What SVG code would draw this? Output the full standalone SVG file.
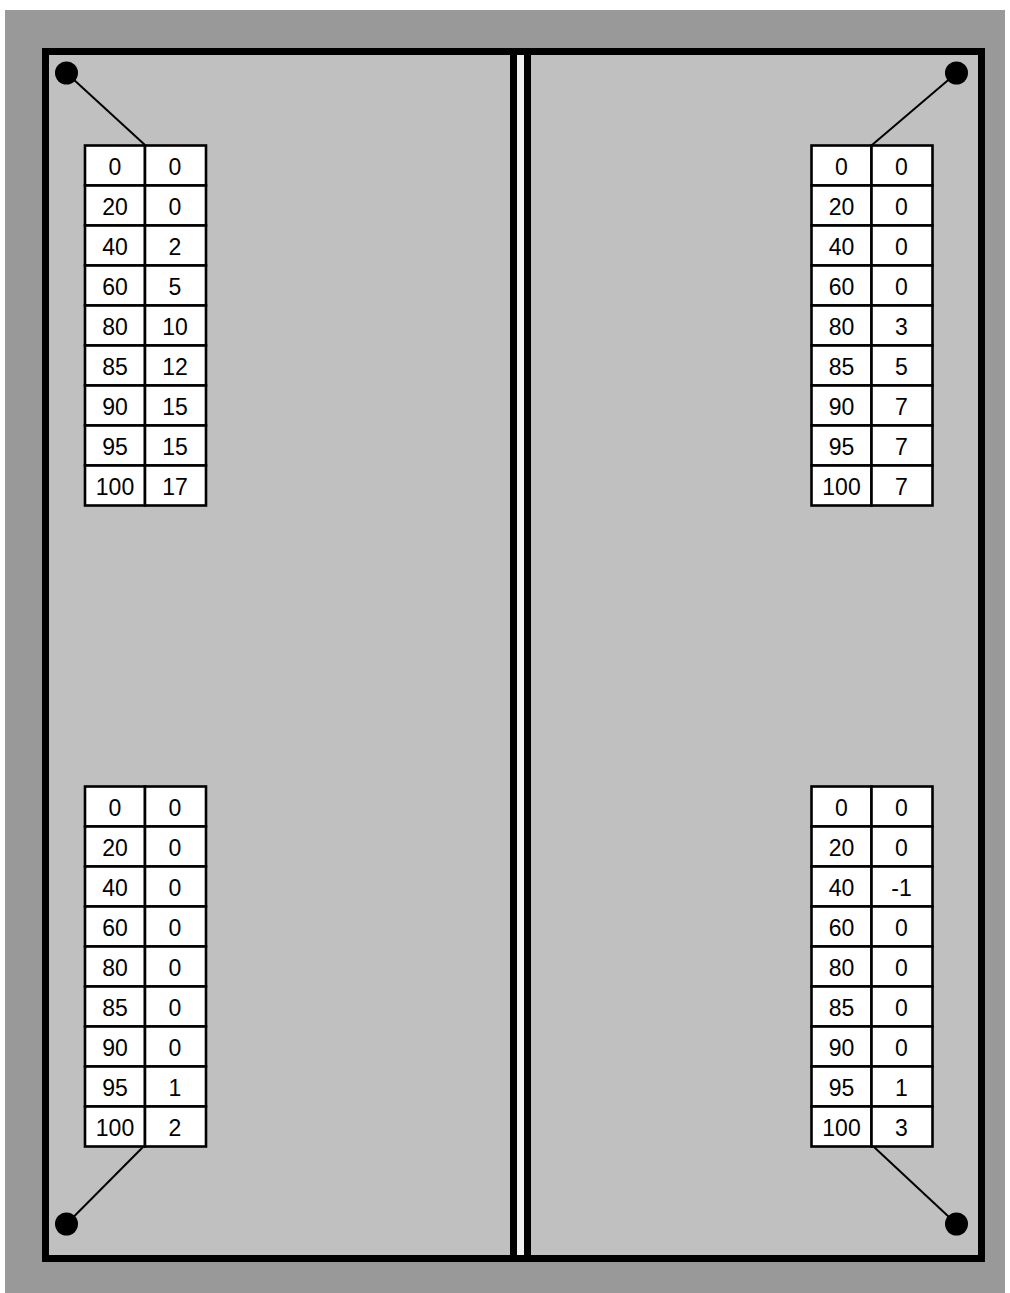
<svg xmlns="http://www.w3.org/2000/svg" width="1010" height="1293" viewBox="0 0 1010 1293">
<defs>
<style>
.cell{fill:#ffffff;stroke:#000000;stroke-width:2.6}
.t{font-family:"Liberation Sans",Arial,sans-serif;font-size:23px;fill:#000000;text-anchor:middle}
.lead{stroke:#000000;stroke-width:2;fill:none}
.dot{fill:#000000}
</style>
<g id="tbl-grid">
<rect class="cell" x="0" y="0" width="60" height="40"/><rect class="cell" x="60" y="0" width="61" height="40"/>
<rect class="cell" x="0" y="40" width="60" height="40"/><rect class="cell" x="60" y="40" width="61" height="40"/>
<rect class="cell" x="0" y="80" width="60" height="40"/><rect class="cell" x="60" y="80" width="61" height="40"/>
<rect class="cell" x="0" y="120" width="60" height="40"/><rect class="cell" x="60" y="120" width="61" height="40"/>
<rect class="cell" x="0" y="160" width="60" height="40"/><rect class="cell" x="60" y="160" width="61" height="40"/>
<rect class="cell" x="0" y="200" width="60" height="40"/><rect class="cell" x="60" y="200" width="61" height="40"/>
<rect class="cell" x="0" y="240" width="60" height="40"/><rect class="cell" x="60" y="240" width="61" height="40"/>
<rect class="cell" x="0" y="280" width="60" height="40"/><rect class="cell" x="60" y="280" width="61" height="40"/>
<rect class="cell" x="0" y="320" width="60" height="40"/><rect class="cell" x="60" y="320" width="61" height="40"/>
</g>
</defs>
<rect x="0" y="0" width="1010" height="1293" fill="#ffffff"/>
<rect x="5" y="10" width="1000" height="1283" fill="#999999"/>
<g id="frame">
<rect x="45.5" y="51.5" width="936" height="1207" fill="#c0c0c0" stroke="#000000" stroke-width="7"/>
<rect x="510" y="48" width="21" height="1214" fill="#000000"/>
<rect x="517" y="55" width="7" height="1200" fill="#f0f0f0"/>
</g>
<g id="connectors">
<line class="lead" x1="66.5" y1="73" x2="145" y2="145"/>
<line class="lead" x1="956.5" y1="73" x2="872" y2="145"/>
<line class="lead" x1="66.5" y1="1224" x2="143" y2="1147"/>
<line class="lead" x1="956.5" y1="1224" x2="874" y2="1147"/>
</g>
<g id="pin-tl"><circle class="dot" cx="66.5" cy="73" r="11.5"/></g>
<g id="pin-tr"><circle class="dot" cx="956.5" cy="73" r="11.5"/></g>
<g id="pin-bl"><circle class="dot" cx="66.5" cy="1224" r="11.5"/></g>
<g id="pin-br"><circle class="dot" cx="956.5" cy="1224" r="11.5"/></g>
<g id="table-tl" transform="translate(85,145.5)">
<use href="#tbl-grid"/>
<text class="t" x="30" y="29">0</text><text class="t" x="90" y="29">0</text>
<text class="t" x="30" y="69">20</text><text class="t" x="90" y="69">0</text>
<text class="t" x="30" y="109">40</text><text class="t" x="90" y="109">2</text>
<text class="t" x="30" y="149">60</text><text class="t" x="90" y="149">5</text>
<text class="t" x="30" y="189">80</text><text class="t" x="90" y="189">10</text>
<text class="t" x="30" y="229">85</text><text class="t" x="90" y="229">12</text>
<text class="t" x="30" y="269">90</text><text class="t" x="90" y="269">15</text>
<text class="t" x="30" y="309">95</text><text class="t" x="90" y="309">15</text>
<text class="t" x="30" y="349">100</text><text class="t" x="90" y="349">17</text>
</g>
<g id="table-tr" transform="translate(811.5,145.5)">
<use href="#tbl-grid"/>
<text class="t" x="30" y="29">0</text><text class="t" x="90" y="29">0</text>
<text class="t" x="30" y="69">20</text><text class="t" x="90" y="69">0</text>
<text class="t" x="30" y="109">40</text><text class="t" x="90" y="109">0</text>
<text class="t" x="30" y="149">60</text><text class="t" x="90" y="149">0</text>
<text class="t" x="30" y="189">80</text><text class="t" x="90" y="189">3</text>
<text class="t" x="30" y="229">85</text><text class="t" x="90" y="229">5</text>
<text class="t" x="30" y="269">90</text><text class="t" x="90" y="269">7</text>
<text class="t" x="30" y="309">95</text><text class="t" x="90" y="309">7</text>
<text class="t" x="30" y="349">100</text><text class="t" x="90" y="349">7</text>
</g>
<g id="table-bl" transform="translate(85,786.5)">
<use href="#tbl-grid"/>
<text class="t" x="30" y="29">0</text><text class="t" x="90" y="29">0</text>
<text class="t" x="30" y="69">20</text><text class="t" x="90" y="69">0</text>
<text class="t" x="30" y="109">40</text><text class="t" x="90" y="109">0</text>
<text class="t" x="30" y="149">60</text><text class="t" x="90" y="149">0</text>
<text class="t" x="30" y="189">80</text><text class="t" x="90" y="189">0</text>
<text class="t" x="30" y="229">85</text><text class="t" x="90" y="229">0</text>
<text class="t" x="30" y="269">90</text><text class="t" x="90" y="269">0</text>
<text class="t" x="30" y="309">95</text><text class="t" x="90" y="309">1</text>
<text class="t" x="30" y="349">100</text><text class="t" x="90" y="349">2</text>
</g>
<g id="table-br" transform="translate(811.5,786.5)">
<use href="#tbl-grid"/>
<text class="t" x="30" y="29">0</text><text class="t" x="90" y="29">0</text>
<text class="t" x="30" y="69">20</text><text class="t" x="90" y="69">0</text>
<text class="t" x="30" y="109">40</text><text class="t" x="90" y="109">-1</text>
<text class="t" x="30" y="149">60</text><text class="t" x="90" y="149">0</text>
<text class="t" x="30" y="189">80</text><text class="t" x="90" y="189">0</text>
<text class="t" x="30" y="229">85</text><text class="t" x="90" y="229">0</text>
<text class="t" x="30" y="269">90</text><text class="t" x="90" y="269">0</text>
<text class="t" x="30" y="309">95</text><text class="t" x="90" y="309">1</text>
<text class="t" x="30" y="349">100</text><text class="t" x="90" y="349">3</text>
</g>
</svg>
